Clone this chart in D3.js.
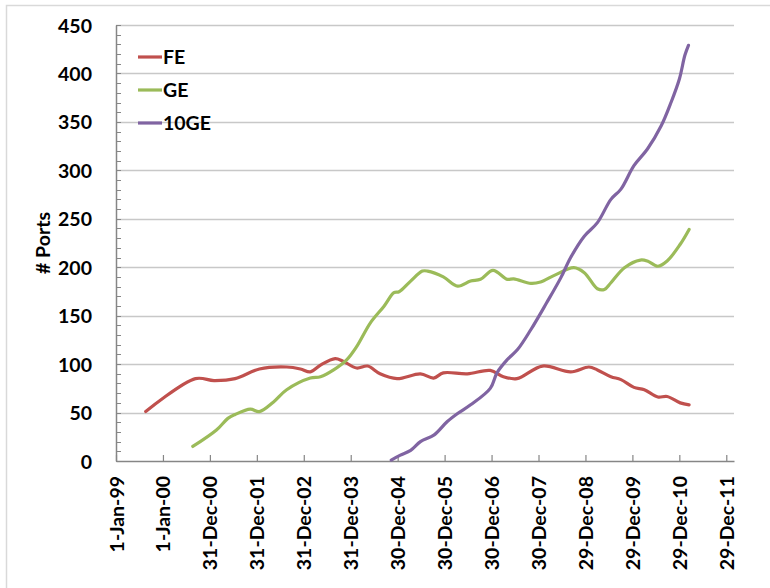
<!DOCTYPE html>
<html lang="en">
<head>
<meta charset="utf-8">
<title># Ports</title>
<script src="https://d3js.org/d3.v7.min.js"></script>
<style>
  body { margin: 0; background: #fff; }
  svg text { font-family: Lato, "Open Sans", sans-serif; font-weight: bold; fill: #000; }
</style>
</head>
<body>
<svg width="770" height="588"></svg>
<script>
// data (date / value)
var feDates = ["1999-08-20","2000-09-10","2001-02-01","2001-07-15","2002-01-20","2002-08-20","2002-12-05","2003-02-20","2003-05-10","2003-09-01","2003-11-01","2004-02-15","2004-05-10","2004-08-15","2004-12-25","2005-06-25","2005-10-05","2005-12-20","2006-06-25","2006-12-20","2007-04-01","2007-07-15","2008-01-30","2008-09-05","2009-01-25","2009-04-01","2009-07-15","2009-10-01","2010-01-10","2010-04-01","2010-07-15","2010-09-25","2011-01-05","2011-03-15"];
var feValues = [51,85,83,85,95,97,95,92,99,105.6,103,96,98,90,85,90,85.6,91,90,93.5,87,85,98,92,97,94,87,84,76,73.5,66,66.6,60,58];

var geDates = ["2000-08-20","2001-02-20","2001-05-20","2001-07-15","2001-11-10","2002-01-20","2002-05-10","2002-08-20","2003-02-20","2003-05-10","2003-08-20","2003-12-01","2004-02-15","2004-06-01","2004-09-15","2004-12-01","2005-01-10","2005-04-10","2005-07-10","2005-08-20","2005-12-20","2006-04-10","2006-07-20","2006-10-05","2007-01-10","2007-05-01","2007-06-20","2007-11-01","2008-01-15","2008-05-01","2008-09-30","2008-12-20","2009-04-01","2009-05-25","2009-07-15","2009-10-28","2010-03-01","2010-04-25","2010-07-15","2010-09-25","2011-01-05","2011-03-15"];
var geValues = [15,32,44,48,53.5,51,61,73.5,85.6,87,94,104.6,118,142.6,159.8,173.7,174.7,185.7,196,196,190,180.5,185.7,187.5,196.8,187.5,188,183.3,184.7,191.6,199.5,194.4,177.8,177,184,199.5,207.4,206.4,201,206.4,223.7,239];

var tenGeDates = ["2004-11-10","2005-01-20","2005-04-10","2005-06-25","2005-10-10","2006-01-20","2006-04-10","2006-07-20","2006-12-20","2007-02-10","2007-05-01","2007-07-20","2007-11-01","2008-03-01","2008-06-20","2008-09-05","2008-12-20","2009-04-01","2009-07-15","2009-10-01","2010-01-10","2010-04-25","2010-08-10","2010-10-25","2010-12-30","2011-02-10","2011-03-10"];
var tenGeValues = [1,6,11,20,27,40.7,49,58,75,91,104.6,115,135.7,163,189,210,232,246,270,280.6,304.8,322,346,370,394.6,418.7,429];

var seriesNames = ["FE", "GE", "10GE"];
var seriesColors = ["#C0504D", "#9BBB59", "#8064A2"];
var yTicks = [0,50,100,150,200,250,300,350,400,450];

var parse = d3.timeParse("%Y-%m-%d");
var start = new Date(1999, 0, 1);
var series = [
  {name: seriesNames[0], color: seriesColors[0], pts: feDates.map(function(d, i){ return {date: parse(d), v: feValues[i]}; })},
  {name: seriesNames[1], color: seriesColors[1], pts: geDates.map(function(d, i){ return {date: parse(d), v: geValues[i]}; })},
  {name: seriesNames[2], color: seriesColors[2], pts: tenGeDates.map(function(d, i){ return {date: parse(d), v: tenGeValues[i]}; })}
];

var svg = d3.select("svg");
var mLeft = 116, mRight = 734, mTop = 25, mBottom = 461;
var fontSize = 19.5;

// outer chart border
svg.append("path")
  .attr("d", "M6.5,600V5.5H780")
  .attr("fill", "none").attr("stroke", "#d9d9d9").attr("stroke-width", 1.5);

var x = d3.scaleTime()
  .domain([start, d3.timeDay.offset(start, 13 * 365 + 60)])
  .range([mLeft, mRight]);
var y = d3.scaleLinear().domain([0, 450]).range([mBottom, mTop]);

// gridlines
svg.append("g").selectAll("line")
  .data(yTicks.slice(1))
  .join("line")
  .attr("x1", mLeft).attr("x2", mRight)
  .attr("y1", function(d){ return Math.round(y(d)) + 0.5; })
  .attr("y2", function(d){ return Math.round(y(d)) + 0.5; })
  .attr("stroke", "#c8c8c8").attr("stroke-width", 1.3);

// minor ticks on y axis
svg.append("g").selectAll("line")
  .data(d3.range(0, 451, 10))
  .join("line")
  .attr("x1", mLeft).attr("x2", mLeft + 5)
  .attr("y1", function(d){ return Math.round(y(d)) + 0.5; })
  .attr("y2", function(d){ return Math.round(y(d)) + 0.5; })
  .attr("stroke", "#868686").attr("stroke-width", 1);

// y axis
var yAxis = svg.append("g")
  .attr("transform", "translate(" + mLeft + ",0)")
  .call(d3.axisLeft(y).tickValues(yTicks).tickSize(0).tickPadding(24));
yAxis.select(".domain").attr("stroke", "#868686").attr("stroke-width", 1.5);
yAxis.selectAll("text").attr("font-size", fontSize).attr("dy", "0.36em")
  .style("font-family", "Lato, sans-serif");

// x axis: ticks every 365 days
var xTicks = d3.range(0, 14).map(function(k){ return d3.timeDay.offset(start, k * 365); });
var xAxis = svg.append("g")
  .attr("transform", "translate(0," + mBottom + ")")
  .call(d3.axisBottom(x).tickValues(xTicks).tickSizeInner(-6).tickSizeOuter(0)
    .tickFormat(d3.timeFormat("%-d-%b-%y")));
xAxis.select(".domain").attr("stroke", "#868686").attr("stroke-width", 1.5);
xAxis.selectAll(".tick line").attr("stroke", "#868686").attr("stroke-width", 1.2);
xAxis.selectAll("text")
  .attr("font-size", fontSize)
  .attr("text-anchor", "end")
  .attr("transform", "rotate(-90)")
  .attr("x", -15).attr("y", 0).attr("dy", "0.36em")
  .style("font-family", "Lato, sans-serif");

// y title
svg.append("text")
  .attr("transform", "translate(43," + ((mTop + mBottom) / 2) + ") rotate(-90)")
  .attr("text-anchor", "middle").attr("dy", "0.36em")
  .attr("font-size", fontSize)
  .text("# Ports");

// lines
var line = d3.line()
  .curve(d3.curveCatmullRom.alpha(0.5))
  .x(function(d){ return x(d.date); })
  .y(function(d){ return y(d.v); });

svg.append("g").selectAll("path")
  .data(series)
  .join("path")
  .attr("d", function(d){ return line(d.pts); })
  .attr("fill", "none")
  .attr("stroke", function(d){ return d.color; })
  .attr("stroke-width", 3.2)
  .attr("stroke-linejoin", "round")
  .attr("stroke-linecap", "round");

// legend
var legend = svg.append("g").selectAll("g")
  .data(series)
  .join("g")
  .attr("transform", function(d, i){ return "translate(138," + (57 + i * 33) + ")"; });
legend.append("line")
  .attr("x1", 0).attr("x2", 24)
  .attr("stroke", function(d){ return d.color; })
  .attr("stroke-width", 3.2);
legend.append("text")
  .attr("x", 25).attr("dy", "0.36em")
  .attr("font-size", fontSize)
  .text(function(d){ return d.name; });
</script>
</body>
</html>
